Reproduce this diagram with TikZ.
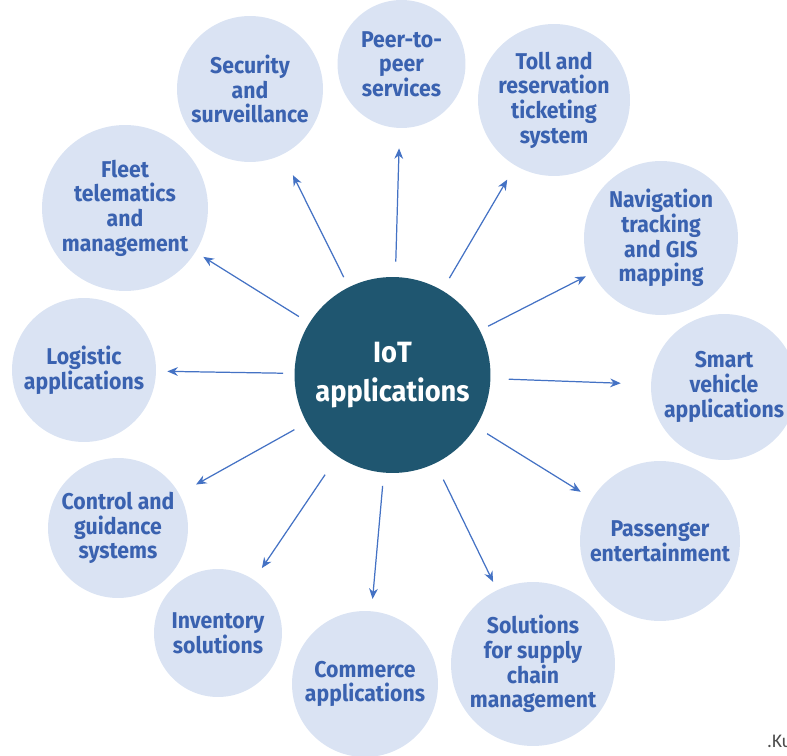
\documentclass[tikz,border=0pt]{standalone}
\usepackage{fontspec}
\newfontfamily\appfont{Fira Sans}[FakeStretch=0.93]
\newfontfamily\notefont{Carlito}
\usetikzlibrary{arrows.meta}
\definecolor{iotteal}{HTML}{1F5670}
\definecolor{appfill}{HTML}{DAE3F3}
\definecolor{apptext}{HTML}{3A62B0}
\definecolor{arrowblue}{HTML}{4472C4}
\tikzset{
  ctr/.style={circle, fill=iotteal, text=white, minimum size=3.92cm, inner sep=0pt, align=center, font=\appfont\bfseries\fontsize{16.7}{22}\selectfont},
  app/.style={circle, fill=appfill, text=apptext, inner sep=0pt, align=center, font=\appfont\bfseries\fontsize{13}{14}\selectfont},
  arr/.style={draw=arrowblue, line width=0.7pt, -{Stealth[length=6pt,width=5pt]}}
}

\begin{document}
\begin{tikzpicture}[x=0.02cm, y=-0.02cm]
	\clip (0,0) rectangle (787,756);
	\node[ctr] (iot) at (392.5,375) {IoT\\applications};

	% ring of application areas, clockwise from the top
	\node[app, minimum size=2.56cm] (peer) at (401.5,64) {Peer-to-\\peer\\services};
	\node[app, minimum size=3.04cm] (toll) at (554,100) {Toll and\\reservation\\ticketing\\system};
	\node[app, minimum size=3.08cm] (nav) at (661,238) {Navigation\\tracking\\and GIS\\mapping};
	\node[app, minimum size=2.92cm] (smart) at (724,387) {Smart\\vehicle\\applications};
	\node[app, minimum size=3.2cm] (pass) at (660,541) {Passenger\\entertainment};
	\node[app, minimum size=3.28cm] (supply) at (533,664) {Solutions\\for supply\\chain\\management};
	\node[app, minimum size=2.92cm] (comm) at (365,684) {Commerce\\applications};
	\node[app, minimum size=2.56cm] (inv) at (218,633) {Inventory\\solutions};
	\node[app, minimum size=2.8cm] (ctrl) at (118,528) {Control and\\guidance\\systems};
	\node[app, minimum size=2.88cm] (logi) at (84,370) {Logistic\\applications};
	\node[app, minimum size=3.32cm] (fleet) at (125,208) {Fleet\\telematics\\and\\management};
	\node[app, minimum size=2.92cm] (secu) at (250,89) {Security\\and\\surveillance};

	\foreach \n/\s/\e in {peer/0.30/0.40, toll/0.28/0.32, nav/0.18/0.14, smart/0.36/0.60,
	                      pass/0.26/0.26, supply/0.36/0.18, comm/0.26/0.24, inv/0.44/0.28,
	                      ctrl/0.28/0.38, logi/0.22/0.22, fleet/0.24/0.18, secu/0.22/0.46}
		\draw[arr, shorten <=\s cm, shorten >=\e cm] (iot) -- (\n);

	\node[font=\notefont\fontsize{11}{13}\selectfont, text=black!70, anchor=base west] (note) at (761,747) {.Ku};
\end{tikzpicture}
\end{document}
